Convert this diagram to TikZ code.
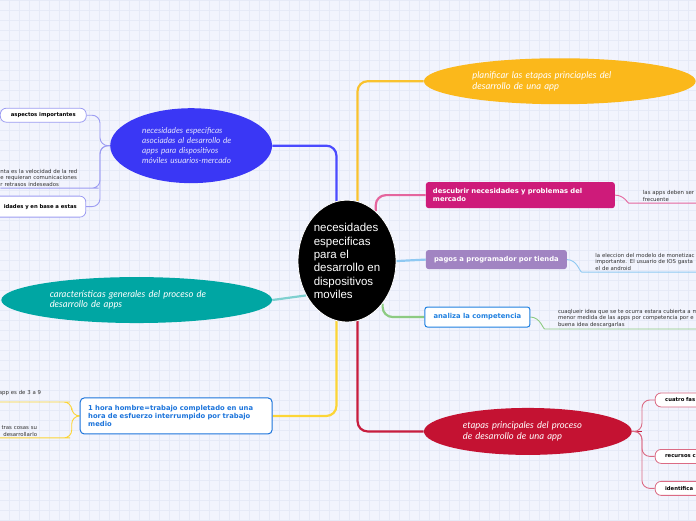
\documentclass[tikz,border=0pt]{standalone}
\usepackage{fontspec}
\setmainfont{DejaVu Sans}
\newfontfamily\corefont{Liberation Sans}
\newfontfamily\ellfont{Lato}
\usepackage{xcolor}
\usetikzlibrary{shapes.geometric, positioning, backgrounds}

\definecolor{paper}{HTML}{F2F4FD}
\definecolor{gridc}{HTML}{E6EAF7}
\definecolor{ink}{HTML}{333333}
\definecolor{needblue}{HTML}{3A37F5}
\definecolor{needlink}{HTML}{4A4AFF}
\definecolor{needline}{HTML}{9C9CF2}
\definecolor{plangold}{HTML}{FBB81B}
\definecolor{goldlink}{HTML}{F9C22E}
\definecolor{discpink}{HTML}{CE1B7A}
\definecolor{pinklink}{HTML}{E5669E}
\definecolor{paypurple}{HTML}{A184C2}
\definecolor{skylink}{HTML}{8FC9F2}
\definecolor{compblue}{HTML}{1F80E0}
\definecolor{greenlink}{HTML}{8DCB82}
\definecolor{genteal}{HTML}{00A6A3}
\definecolor{teallink}{HTML}{7FD0D0}
\definecolor{hourblue}{HTML}{1C74DB}
\definecolor{yellink}{HTML}{FCD536}
\definecolor{phasered}{HTML}{C41232}
\definecolor{redlink}{HTML}{C81D3E}
\definecolor{phaseline}{HTML}{DB6B84}

\begin{document}
\begin{tikzpicture}[x=1pt, y=-1pt,
  core/.style={ellipse, fill=black, draw=white, line width=0.8pt, minimum width=98pt, minimum height=122pt, inner sep=0pt, text=white, align=left, font=\corefont\fontsize{11.5}{13.4}\selectfont},
  elli/.style={ellipse, inner sep=0pt, text=white, align=left, font=\ellfont\itshape\fontsize{9.4}{10.4}\selectfont},
  topic/.style={rounded corners=2.5pt, inner xsep=7pt, inner ysep=0pt, font=\bfseries\fontsize{6.8}{8.4}\selectfont},
  leaf/.style={draw, fill=white, rounded corners=6pt, line width=0.8pt, minimum height=14pt, inner ysep=0pt, font=\bfseries\fontsize{5.3}{6.4}\selectfont},
  note/.style={inner xsep=0pt, inner ysep=1.5pt, align=left, text=ink, font=\fontsize{5.4}{6.6}\selectfont},
  link/.style={line width=2.2pt, rounded corners=10pt},
  twig/.style={line width=0.9pt, rounded corners=8pt}
]
% paper and grid
\begin{scope}[on background layer]
\fill[paper] (0,0) rectangle (696,520);
\draw[gridc, line width=0.6pt, shift={(9pt,0pt)}] (-9pt,0pt) grid[step=10pt] (687pt,-520pt);
\end{scope}
\useasboundingbox (0,0) rectangle (696,520);

% main topics
\node[core] (core) at (347,261) {necesidades\\especificas\\para el\\desarrollo en\\dispositivos\\moviles};
\node[elli, fill=needblue, minimum width=162pt, minimum height=75pt, text width=98pt, text=white!85!needblue, font=\ellfont\itshape\fontsize{8.2}{10}\selectfont] (need) at (191,145.5) {necesidades especificas\\asociadas al desarrollo de\\apps para dispositivos\\móviles usuarios-mercado};
\node[elli, fill=plangold, minimum width=272pt, minimum height=46pt, text width=175pt] (plan) at (560,81) {planificar las etapas princiaples del\\desarrollo de una app};
\node[topic, fill=discpink, text=white, minimum width=189pt, minimum height=26pt, text width=175pt, align=left] (disc) at (520.5,195) {descubrir necesidades y problemas del\\mercado};
\node[topic, fill=paypurple, text=white, minimum width=141pt, minimum height=19pt] (pay) at (496.5,259.5) {pagos a programador por tienda};
\node[topic, draw=compblue, line width=1pt, fill=white, text=compblue, minimum width=105pt, minimum height=20pt] (comp) at (477.5,317) {analiza la competencia};
\node[elli, fill=genteal, minimum width=271pt, minimum height=46pt, text width=174pt] (gen) at (136.5,300) {características generales del proceso de\\desarrollo de apps};
\node[topic, draw=hourblue, line width=1pt, fill=white, text=hourblue, rounded corners=4pt, minimum width=192pt, minimum height=36pt, text width=176pt, align=left] (hour) at (176,416) {1 hora hombre=trabajo completado en una\\hora de esfuerzo interrumpido por trabajo\\medio};
\node[elli, fill=phasered, minimum width=208pt, minimum height=47pt, text width=130pt] (phase) at (528,431.5) {etapas principales del proceso\\de desarrollo de una app};

% subtopics
\node[leaf, draw=needline, minimum width=86pt] (aspect) at (43,115) {aspectos importantes};
\node[note, anchor=south west, text width=90pt] (speed) at (0,188) {nta es la velocidad de la red\\e requieran comunicaciones\\r retrasos indeseados};
\node[leaf, draw=needline, anchor=east, minimum height=21pt, inner xsep=9pt, text width=130pt, align=right] (base) at (86,206.5) {idades y en base a estas};
\node[note, anchor=south west, inner xsep=6pt, text width=70pt] (freq) at (637,203) {las apps deben ser\\frecuente};
\node[note, anchor=south west, inner xsep=5.5pt, text width=110pt] (money) at (590,272) {la eleccion del modelo de monetizac\\importante. El usuario de IOS gasta\\el de android};
\node[note, anchor=south west, inner xsep=5pt, text width=150pt] (rival) at (553,329) {cuaqlueir idea que se te ocurra estara cubierta a m\\menor medida de las apps por competencia por e\\buena idea descargarlas};
\node[note, anchor=south east, inner xsep=21pt, inner ysep=6pt, text width=60pt, align=right] (rate) at (62,402) {app es de 3 a 9};
\node[note, anchor=south east, inner xsep=25pt, text width=60pt, align=right] (todo) at (62,438) {tras cosas su\\desarrollarlo};
\node[leaf, draw=phaseline, anchor=west, inner xsep=10pt, text width=50pt, align=left] (four) at (655,400) {cuatro fas};
\node[leaf, draw=phaseline, anchor=west, inner xsep=10pt, text width=50pt, align=left] (res) at (655,456.5) {recursos c};
\node[leaf, draw=phaseline, anchor=west, inner xsep=10pt, text width=50pt, align=left] (ident) at (655,488.5) {identifica};

% connectors
\begin{scope}[on background layer]
\draw[link, needlink] (need.east) -| (core.100);
\draw[link, goldlink] (core.80) |- (plan.west);
\draw[link, pinklink] (core.60) |- (disc.west);
\draw[link, skylink] (core.east) -- (pay.west);
\draw[link, greenlink] (core.-50) |- (comp.west);
\draw[link, teallink] (core.220) -- (gen.east);
\draw[link, yellink] (core.260) |- (hour.east);
\draw[link, redlink] (core.280) |- (phase.west);
\draw[twig, needline] (need.west) -- ++(-10,0) |- (aspect.east);
\draw[twig, needline] (need.west) -- ++(-10,0) |- (speed.south east) -- (speed.south west);
\draw[twig, needline] (need.west) -- ++(-10,0) |- (base.east);
\draw[twig, pinklink] (disc.east) to[out=0, in=180] (freq.south west) -- (freq.south east);
\draw[twig, skylink] (pay.east) to[out=0, in=180] (money.south west) -- (money.south east);
\draw[twig, greenlink] (comp.east) to[out=0, in=180] (rival.south west) -- (rival.south east);
\draw[twig, yellink] (hour.west) -- ++(-8,0) |- (rate.south east) -- (rate.south west);
\draw[twig, yellink] (hour.west) -- ++(-8,0) |- (todo.south east) -- (todo.south west);
\draw[link, redlink, line width=1.6pt] (phase.east) -- ++(10,0);
\draw[twig, phaseline] (phase.east) -- ++(10,0) |- (four.west);
\draw[twig, phaseline] (phase.east) -- ++(10,0) |- (res.west);
\draw[twig, phaseline] (phase.east) -- ++(10,0) |- (ident.west);
\end{scope}
\end{tikzpicture}
\end{document}
